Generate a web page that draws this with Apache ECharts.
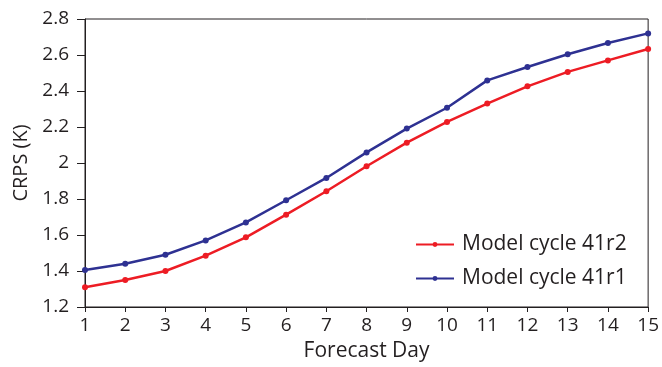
<!DOCTYPE html>
<html>
<head>
<meta charset="utf-8">
<script src="https://cdn.jsdelivr.net/npm/echarts@6/dist/echarts.min.js"></script>
<style>
  html, body { margin: 0; padding: 0; background: #fff; }
  #chart { width: 662px; height: 367px; }
</style>
</head>
<body>
<div id="chart"></div>
<script>
// forecast days and CRPS values
const forecastDays = [1, 2, 3, 4, 5, 6, 7, 8, 9, 10, 11, 12, 13, 14, 15]
const crps41r2 = [1.31, 1.35, 1.40, 1.485, 1.587, 1.713, 1.843, 1.982, 2.113, 2.228, 2.33, 2.426, 2.506, 2.57, 2.633]
const crps41r1 = [1.405, 1.44, 1.49, 1.57, 1.67, 1.793, 1.917, 2.059, 2.191, 2.307, 2.459, 2.533, 2.604, 2.667, 2.72]
const seriesNames = ['Model cycle 41r2', 'Model cycle 41r1']

const font = '"Open Sans", "Noto Sans", sans-serif'
const ink = '#231f20'

const toPairs = vals => forecastDays.map((d, i) => [d, vals[i]])

const chart = echarts.init(document.getElementById('chart'))
const option = {
  animation: false,
  textStyle: { fontFamily: font, color: ink },
  grid: {
    left: 85,
    right: 11,
    top: 19,
    bottom: 60,
    show: true,
    borderColor: ink,
    borderWidth: 1
  },
  legend: {
    data: seriesNames,
    orient: 'vertical',
    left: 410,
    top: 229,
    itemWidth: 38,
    itemHeight: 6,
    itemGap: 13,
    textStyle: { fontFamily: font, fontSize: 21, color: ink, padding: [0, 0, 0, 3] }
  },
  xAxis: {
    type: 'value',
    min: 1,
    max: 15,
    interval: 1,
    name: 'Forecast Day',
    nameLocation: 'middle',
    nameGap: 34,
    nameTextStyle: { fontFamily: font, fontSize: 21, color: ink },
    axisLine: { lineStyle: { color: ink, width: 1 } },
    axisTick: { show: true, length: 5, lineStyle: { color: ink } },
    axisLabel: { fontSize: 19, color: ink, margin: 9 },
    splitLine: { show: false }
  },
  yAxis: {
    type: 'value',
    min: 1.2,
    max: 2.8,
    interval: 0.2,
    name: 'CRPS (K)',
    nameLocation: 'middle',
    nameGap: 53,
    nameTextStyle: { fontFamily: font, fontSize: 20, color: ink },
    axisLine: { show: true, lineStyle: { color: ink, width: 1 } },
    axisTick: { show: true, length: 8, lineStyle: { color: ink } },
    axisLabel: {
      fontSize: 19,
      color: ink,
      margin: 16,
      formatter: v => String(Math.round(v * 10) / 10)
    },
    splitLine: { show: false }
  },
  series: [
    {
      name: seriesNames[0],
      type: 'line',
      data: toPairs(crps41r2),
      symbol: 'circle',
      symbolSize: 6,
      color: '#ed1c24',
      lineStyle: { width: 2.5, color: '#ed1c24' },
      itemStyle: { color: '#ed1c24' },
      z: 3
    },
    {
      name: seriesNames[1],
      type: 'line',
      data: toPairs(crps41r1),
      symbol: 'circle',
      symbolSize: 6,
      color: '#2e3192',
      lineStyle: { width: 2.5, color: '#2e3192' },
      itemStyle: { color: '#2e3192' },
      z: 4
    }
  ]
}
chart.setOption(option)
</script>
</body>
</html>
